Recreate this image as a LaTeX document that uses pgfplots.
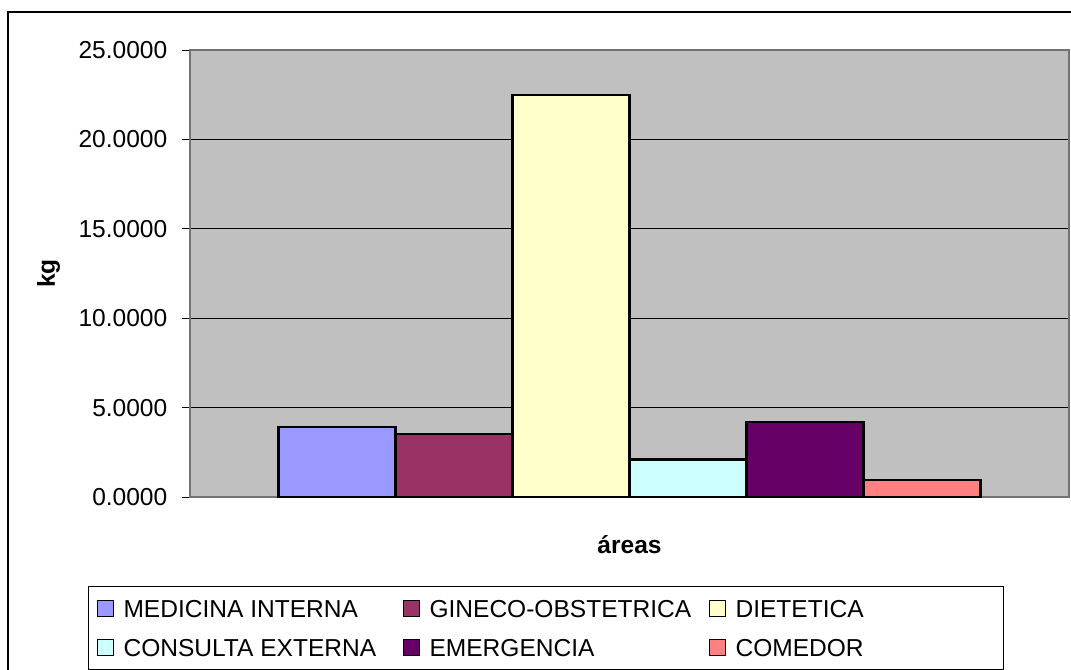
\documentclass[border=0pt]{standalone}
\usepackage{pgfplots}
\pgfplotsset{compat=1.18}
\usepackage{fontspec}
\setmainfont{Liberation Sans}

\definecolor{plotgray}{HTML}{C0C0C0}
\definecolor{medint}{HTML}{9999FF}
\definecolor{gineco}{HTML}{993366}
\definecolor{dietet}{HTML}{FFFFCC}
\definecolor{consext}{HTML}{CCFFFF}
\definecolor{emerg}{HTML}{660066}
\definecolor{comedor}{HTML}{FF8080}

\newcommand{\chartfont}{\fontsize{18.4}{22}\selectfont}

\begin{document}
\begin{tikzpicture}[x=0.75pt,y=0.75pt]
\useasboundingbox (0,0) rectangle (1071,669);
% chart frame (runs past the right and bottom edges, as in the source)
\draw[line width=1.2pt] (8,657) rectangle (1090,-20);
\begin{axis}[
    at={(142.5pt,129pt)}, anchor=south west,
    scale only axis,
    width=659.25pt, height=335.25pt,
    ybar=0pt, bar width=87.75pt,
    xmin=-1, xmax=1,
    ymin=0, ymax=25,
    xtick=\empty,
    ytick={0,5,10,15,20,25},
    ytick pos=left,
    tick align=outside,
    major tick length=6pt,
    tick style={black, line width=0.75pt},
    yticklabel style={font=\chartfont, xshift=-7.5pt},
    /pgf/number format/.cd, fixed, fixed zerofill, precision=4, 1000 sep={}, assume math mode=true,
    /pgfplots/.cd,
    ymajorgrids,
    grid style={black, line width=0.75pt},
    axis background/.style={fill=plotgray},
    axis line style={draw=black!55, line width=1pt},
    xlabel={\textbf{áreas}},
    xlabel style={font=\chartfont, at={(axis description cs:0.5,-0.107)}, anchor=center},
    ylabel={\textbf{kg}},
    ylabel style={font=\chartfont, at={(axis description cs:-0.161,0.5)}, anchor=center},
    every axis plot/.append style={draw=black, line width=1.6pt},
    legend columns=3,
    legend cell align=left,
    legend image code/.code={\draw[#1, line width=0.75pt] (0pt,-6pt) rectangle (12pt,6pt);},
    legend style={
        at={(axis description cs:-0.116,-0.199)}, anchor=north west,
        draw=black, line width=0.75pt,
        font=\chartfont,
        inner xsep=6pt, inner ysep=7.9pt,
        row sep=12pt,
        nodes={inner sep=0pt, text height=15.2pt, text depth=2pt},
        /tikz/every odd column/.style={column sep=7.5pt},
        /tikz/every even column/.style={column sep=0pt},
    },
]
\addplot[fill=medint] coordinates {(0,3.9)};
\addlegendentry{\makebox[209.25pt][l]{MEDICINA INTERNA}}
\addplot[fill=gineco] coordinates {(0,3.5)};
\addlegendentry{\makebox[209.25pt][l]{GINECO-OBSTETRICA}}
\addplot[fill=dietet] coordinates {(0,22.5)};
\addlegendentry{\makebox[195pt][l]{DIETETICA}}
\addplot[fill=consext] coordinates {(0,2.1)};
\addlegendentry{\makebox[209.25pt][l]{CONSULTA EXTERNA}}
\addplot[fill=emerg] coordinates {(0,4.2)};
\addlegendentry{\makebox[209.25pt][l]{EMERGENCIA}}
\addplot[fill=comedor] coordinates {(0,0.95)};
\addlegendentry{\makebox[195pt][l]{COMEDOR}}
\end{axis}
\end{tikzpicture}
\end{document}
